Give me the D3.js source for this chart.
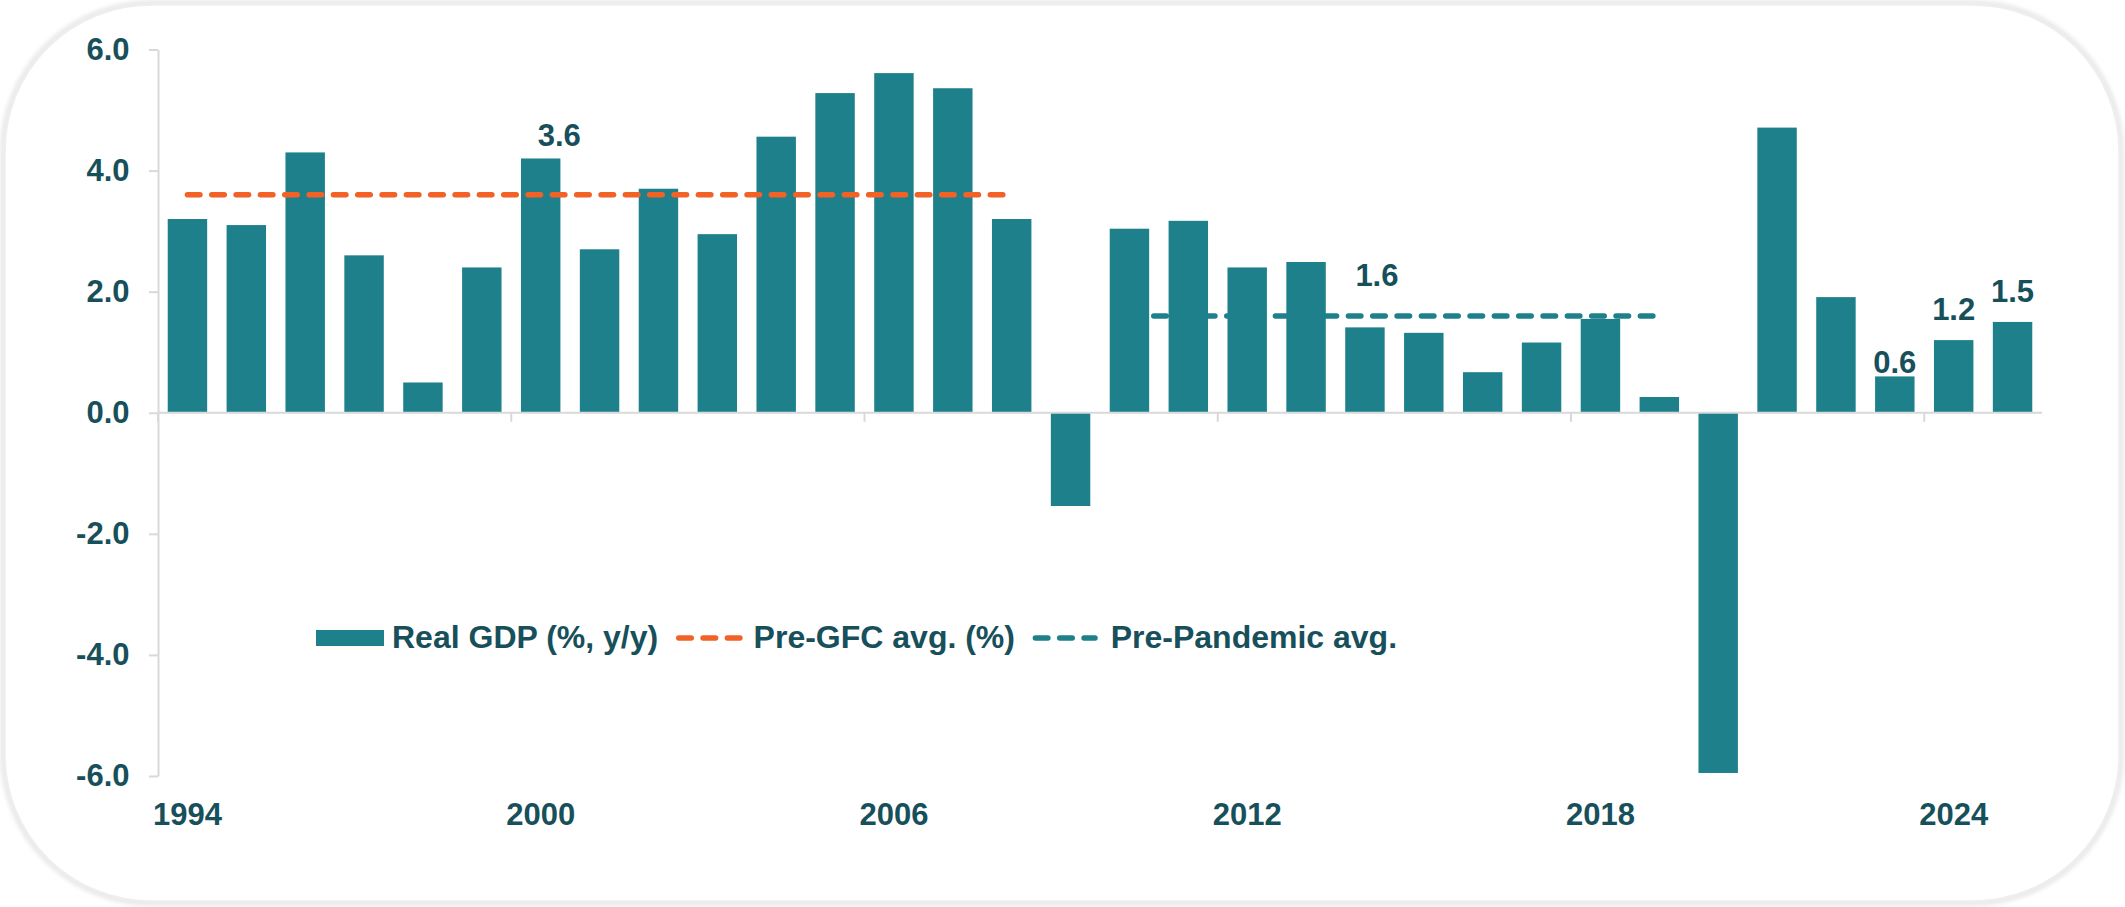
<!DOCTYPE html>
<html>
<head>
<meta charset="utf-8">
<script src="https://cdn.jsdelivr.net/npm/d3@7"></script>
<style>
  html, body { margin: 0; padding: 0; background: #ffffff; }
  svg { display: block; }
  text { font-family: "Liberation Sans", Arial, sans-serif; font-weight: bold; }
</style>
</head>
<body>
<svg id="chart" width="2125" height="907"></svg>
<script>
// Annual real GDP growth, % y/y
const years = [1994, 1995, 1996, 1997, 1998, 1999, 2000, 2001, 2002, 2003,
               2004, 2005, 2006, 2007, 2008, 2009, 2010, 2011, 2012, 2013,
               2014, 2015, 2016, 2017, 2018, 2019, 2020, 2021, 2022, 2023,
               2024, 2025];
const realGdp = [3.2, 3.1, 4.3, 2.6, 0.5, 2.4, 4.2, 2.7, 3.7, 2.95,
                 4.56, 5.28, 5.61, 5.36, 3.2, -1.54, 3.04, 3.17, 2.4, 2.49,
                 1.41, 1.32, 0.67, 1.16, 1.55, 0.26, -5.95, 4.71, 1.91, 0.6,
                 1.2, 1.5];

// Period averages
const preGfcYears = [1994, 1995, 1996, 1997, 1998, 1999, 2000, 2001, 2002, 2003,
                     2004, 2005, 2006, 2007, 2008];
const preGfcAvg = [3.6, 3.6, 3.6, 3.6, 3.6, 3.6, 3.6, 3.6, 3.6, 3.6,
                   3.6, 3.6, 3.6, 3.6, 3.6];
const prePandemicYears = [2010, 2011, 2012, 2013, 2014, 2015, 2016, 2017, 2018, 2019];
const prePandemicAvg = [1.6, 1.6, 1.6, 1.6, 1.6, 1.6, 1.6, 1.6, 1.6, 1.6];

// Axis ticks
const yTicks = [-6, -4, -2, 0, 2, 4, 6];
const xLabelYears = [1994, 2000, 2006, 2012, 2018, 2024];

// Value labels
const labelYears = [2000, 2014, 2023, 2024, 2025];
const labelValues = [3.6, 1.6, 0.6, 1.2, 1.5];

// Legend entries
const legendNames = ["Real GDP (%, y/y)", "Pre-GFC avg. (%)", "Pre-Pandemic avg."];

const TEXT = "#17505b";
const BAR = "#1e808b";
const ORANGE = "#f26125";
const AXIS = "#d9d9d9";
const DASH = "12.5 11.83";

const svg = d3.select("#chart");

// card background with soft edge
const defs = svg.append("defs");
const f = defs.append("filter").attr("id", "soft")
  .attr("x", "-5%").attr("y", "-5%").attr("width", "110%").attr("height", "110%");
f.append("feGaussianBlur").attr("stdDeviation", 2);
svg.append("rect")
  .attr("x", 3).attr("y", 3).attr("width", 2118).attr("height", 900)
  .attr("rx", 148).attr("ry", 148)
  .attr("fill", "none").attr("stroke", "#e6e6e6").attr("stroke-width", 5)
  .attr("filter", "url(#soft)");
svg.append("rect")
  .attr("x", 5).attr("y", 5).attr("width", 2114).attr("height", 896)
  .attr("rx", 146).attr("ry", 146)
  .attr("fill", "#ffffff").attr("stroke", "#eeeeee").attr("stroke-width", 1.5);

// scales
const x = d3.scaleBand().domain(years).range([158, 2042])
  .paddingInner(0.33).paddingOuter(0.165);
const y = d3.scaleLinear().domain([-6, 6]).range([776, 49.5]);
const cx = yr => x(yr) + x.bandwidth() / 2;
const bandStart = yr => x(yr) - (x.step() - x.bandwidth()) / 2;

// y axis
const yAxis = svg.append("g").attr("transform", "translate(158,0)")
  .call(d3.axisLeft(y).tickValues(yTicks).tickSize(9).tickSizeOuter(0)
    .tickPadding(19.5).tickFormat(d => d.toFixed(1)));
yAxis.select(".domain").attr("stroke", AXIS).attr("stroke-width", 2);
yAxis.selectAll(".tick line").attr("stroke", AXIS).attr("stroke-width", 2);
yAxis.selectAll(".tick text").attr("fill", TEXT).attr("font-size", 31)
  .attr("font-family", "'Liberation Sans', Arial, sans-serif").attr("font-weight", "bold");

// bars
svg.append("g").selectAll("rect").data(years).join("rect")
  .attr("x", d => x(d))
  .attr("width", x.bandwidth())
  .attr("y", (d, i) => y(Math.max(0, realGdp[i])))
  .attr("height", (d, i) => Math.abs(y(realGdp[i]) - y(0)))
  .attr("fill", BAR);

// zero line with category ticks
const xr = x.range();
svg.append("line")
  .attr("x1", xr[0]).attr("x2", xr[1]).attr("y1", y(0)).attr("y2", y(0))
  .attr("stroke", AXIS).attr("stroke-width", 2);
svg.append("g").selectAll("line").data(xLabelYears).join("line")
  .attr("x1", d => bandStart(d)).attr("x2", d => bandStart(d))
  .attr("y1", y(0)).attr("y2", y(0) + 9)
  .attr("stroke", AXIS).attr("stroke-width", 2);

// x labels at the bottom of the plot
const xAxis = svg.append("g").attr("transform", `translate(0,${y(-6)})`)
  .call(d3.axisBottom(x).tickValues(xLabelYears).tickSize(0).tickPadding(27));
xAxis.select(".domain").remove();
xAxis.selectAll(".tick text").attr("fill", TEXT).attr("font-size", 31)
  .attr("font-family", "'Liberation Sans', Arial, sans-serif").attr("font-weight", "bold");

// average lines
const line = d3.line().x(d => cx(d[0])).y(d => y(d[1]));
svg.append("path")
  .datum(preGfcYears.map((yr, i) => [yr, preGfcAvg[i]]))
  .attr("d", line).attr("fill", "none")
  .attr("stroke", ORANGE).attr("stroke-width", 5.5)
  .attr("stroke-linecap", "round").attr("stroke-dasharray", DASH);
svg.append("path")
  .datum(prePandemicYears.map((yr, i) => [yr, prePandemicAvg[i]]))
  .attr("d", line).attr("fill", "none")
  .attr("stroke", BAR).attr("stroke-width", 5.5)
  .attr("stroke-linecap", "round").attr("stroke-dasharray", DASH);

// value labels
const labelOffsets = [[18.6, -49], [12, -30], [0, -3.2], [0, -19.7], [0, -19.6]];
svg.append("g").selectAll("text").data(labelYears).join("text")
  .attr("x", (d, i) => cx(d) + labelOffsets[i][0])
  .attr("y", (d, i) => y(labelValues[i]) + labelOffsets[i][1])
  .attr("text-anchor", "middle")
  .attr("fill", TEXT).attr("font-size", 31)
  .text((d, i) => labelValues[i].toFixed(1));

// legend
const lg = svg.append("g");
lg.append("rect").attr("x", 316).attr("y", 630).attr("width", 68).attr("height", 16)
  .attr("fill", BAR);
lg.append("text").attr("x", 392).attr("y", 648).attr("fill", TEXT)
  .attr("font-size", 32).text(legendNames[0]);
lg.append("line").attr("x1", 678.75).attr("x2", 740).attr("y1", 638).attr("y2", 638)
  .attr("stroke", ORANGE).attr("stroke-width", 5.5)
  .attr("stroke-linecap", "round").attr("stroke-dasharray", DASH);
lg.append("text").attr("x", 753.6).attr("y", 648).attr("fill", TEXT)
  .attr("font-size", 32).text(legendNames[1]);
lg.append("line").attr("x1", 1035.4).attr("x2", 1095).attr("y1", 638).attr("y2", 638)
  .attr("stroke", BAR).attr("stroke-width", 5.5)
  .attr("stroke-linecap", "round").attr("stroke-dasharray", DASH);
lg.append("text").attr("x", 1110.7).attr("y", 648).attr("fill", TEXT)
  .attr("font-size", 32).text(legendNames[2]);
</script>
</body>
</html>
